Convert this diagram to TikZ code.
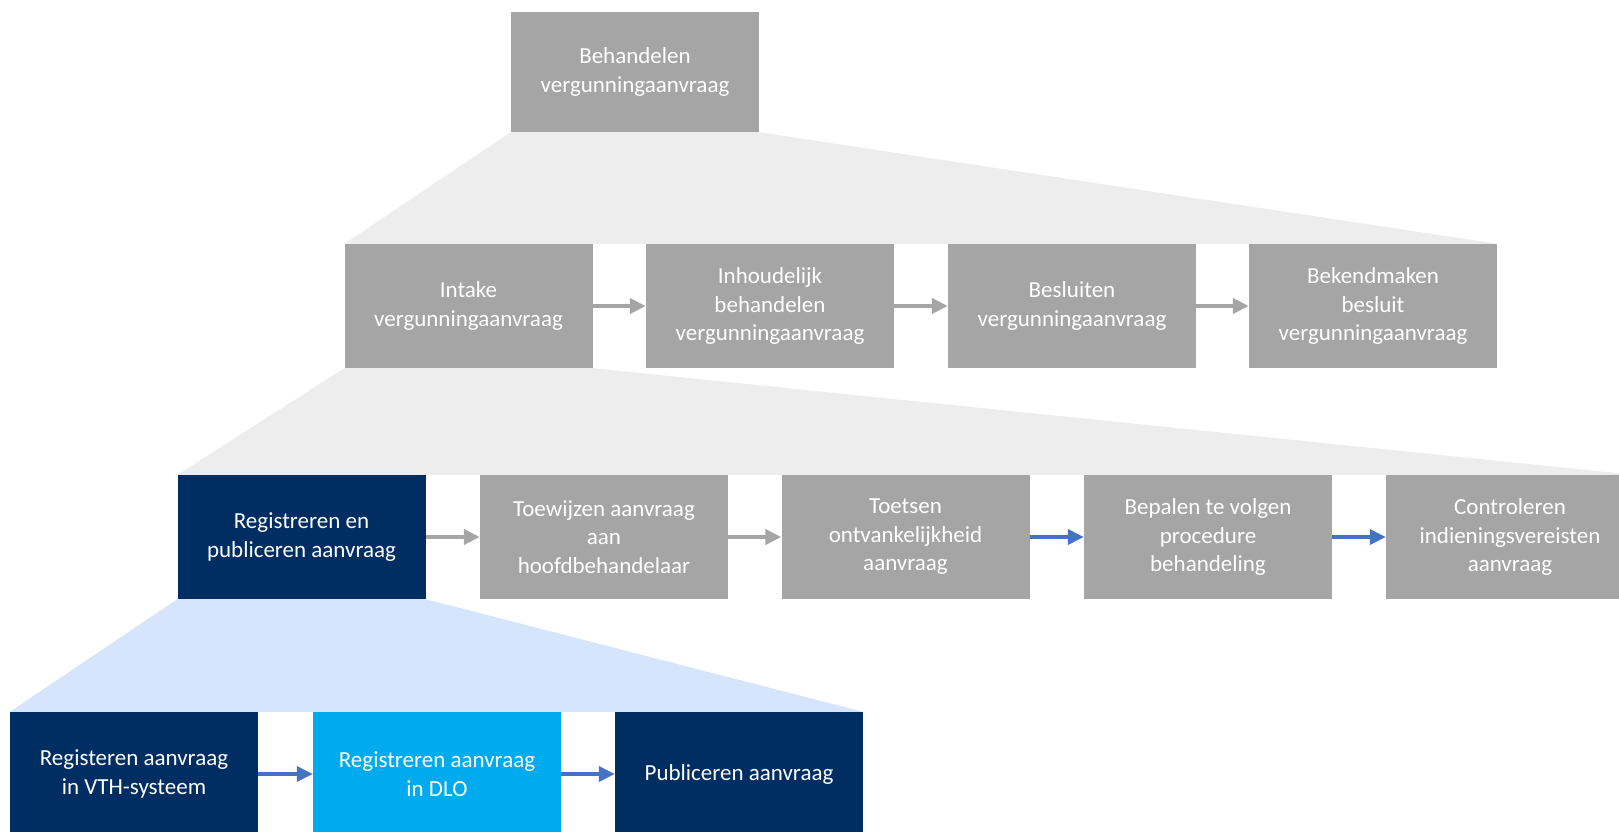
\documentclass[tikz,border=0pt]{standalone}
\usepackage{fontspec}
\setmainfont{Carlito}
\usetikzlibrary{arrows.meta,backgrounds}
\definecolor{boxgrey}{HTML}{A5A5A5}
\definecolor{shadegrey}{HTML}{EDEDED}
\definecolor{navy}{HTML}{002D62}
\definecolor{cyanbox}{HTML}{00AAEF}
\definecolor{shadeblue}{HTML}{D6E5FB}
\definecolor{arrowblue}{HTML}{4472C4}
\tikzset{
  procbox/.style={fill=boxgrey, text=white, align=center, inner sep=0pt,
    minimum width=248pt, minimum height=124pt,
    font=\fontsize{23}{28.5}\selectfont},
  navybox/.style={procbox, fill=navy},
  cyanbox/.style={procbox, fill=cyanbox},
  greyarrow/.style={draw=boxgrey, line width=4pt, -{Triangle[length=16pt,width=15pt]}},
  bluearrow/.style={draw=arrowblue, line width=3.5pt, -{Triangle[length=16pt,width=15pt]}}
}
\begin{document}
\begin{tikzpicture}[x=1pt,y=-1pt]
\useasboundingbox (0,0) rectangle (1619,832);
% top
\node[procbox, minimum height=120pt] (top) at (635,72) {Behandelen\\vergunningaanvraag};
% level 2
\node[procbox] (a1) at (468.5,306) {Intake\\vergunningaanvraag};
\node[procbox] (a2) at (770,306) {Inhoudelijk\\behandelen\\vergunningaanvraag};
\node[procbox] (a3) at (1072,306) {Besluiten\\vergunningaanvraag};
\node[procbox] (a4) at (1373,306) {Bekendmaken\\besluit\\vergunningaanvraag};
% level 3
\node[navybox] (b1) at (301.5,537) {Registreren en\\publiceren aanvraag};
\node[procbox] (b2) at (604,537) {Toewijzen aanvraag\\aan\\hoofdbehandelaar};
\node[procbox] (b3) at (905.5,537) {Toetsen\\ontvankelijkheid\\aanvraag};
\node[procbox] (b4) at (1208,537) {Bepalen te volgen\\procedure\\behandeling};
\node[procbox] (b5) at (1510,537) {Controleren\\indieningsvereisten\\aanvraag};
% level 4
\node[navybox] (c1) at (134,774) {Registeren aanvraag\\in VTH-systeem};
\node[cyanbox] (c2) at (437,774) {Registreren aanvraag\\in DLO};
\node[navybox] (c3) at (739,774) {Publiceren aanvraag};
% zoom shadings
\begin{scope}[on background layer]
\fill[shadegrey] (top.south west) -- (top.south east) -- (a4.north east) -- (a1.north west) -- cycle;
\fill[shadegrey] (a1.south west) -- (a1.south east) -- (b5.north east) -- (b1.north west) -- cycle;
\fill[shadeblue] (b1.south west) -- (b1.south east) -- (c3.north east) -- (c1.north west) -- cycle;
\end{scope}
% arrows
\draw[greyarrow] (a1) -- (a2);
\draw[greyarrow] (a2) -- (a3);
\draw[greyarrow] (a3) -- (a4);
\draw[greyarrow] (b1) -- (b2);
\draw[greyarrow] (b2) -- (b3);
\draw[bluearrow] (b3) -- (b4);
\draw[bluearrow] (b4) -- (b5);
\draw[bluearrow] (c1) -- (c2);
\draw[bluearrow] (c2) -- (c3);
\end{tikzpicture}
\end{document}
